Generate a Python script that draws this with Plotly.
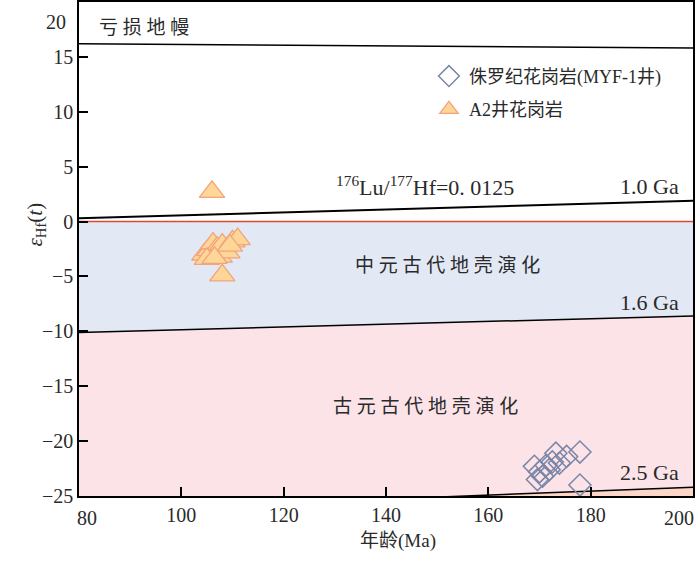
"""εHf(t) - 年龄 图解

使用 plotly 绘制锆石 Hf 同位素演化图。
"""

import plotly.graph_objects as go

# 参考演化线 (年龄 Ma, εHf)
line_age = [80, 200]
dm_eps = [16.2, 15.8]  # 亏损地幔
ga10_eps = [0.3, 1.9]  # 1.0 Ga
ga16_eps = [-10.1, -8.6]  # 1.6 Ga
ga25_age = [150, 200]
ga25_eps = [-25.1, -24.2]  # 2.5 Ga
chur_eps = [0, 0]

# A2 井花岗岩
a2_age = [106, 108, 104.5, 105.5, 106.2, 107, 107.5, 108, 109, 110, 111, 105, 106.5, 109.5]
a2_eps = [2.7, -4.9, -3.0, -2.6, -2.0, -2.4, -3.2, -2.1, -2.8, -1.8, -1.6, -3.4, -3.3, -2.2]

# 侏罗纪花岗岩 (MYF-1 井)
myf_age = [177.9, 177.9, 175.3, 173.2, 172.5, 173.9, 171.3, 169.0, 170.0, 170.6, 169.6, 171.9]
myf_eps = [-24.0, -21.0, -21.4, -21.1, -21.9, -22.0, -22.2, -22.3, -22.8, -23.2, -23.5, -22.6]

# 刻度 (边缘的刻度文字单独放, 往图内缩一点)
y_ticks = [20, 15, 10, 5, 0, -5, -10, -15, -20, -25]
y_tick_text = ["", "15", "10", "5", "0", "−5", "−10", "−15", "−20", "−25"]
x_ticks = [80, 100, 120, 140, 160, 180, 200]
x_tick_text = ["", "100", "120", "140", "160", "180", ""]
y_bottom = -25

FONT = "Liberation Serif, Noto Sans CJK SC"
TEXT_COLOR = "#2a2a2a"

fig = go.Figure()

# 古元古代地壳演化区 (粉色)
fig.add_trace(
    go.Scatter(
        x=line_age + line_age[::-1],
        y=ga16_eps + [y_bottom, y_bottom],
        fill="toself",
        fillcolor="#fbe3e8",
        line={"width": 0},
        mode="lines",
        showlegend=False,
        hoverinfo="skip",
    )
)

# 2.5 Ga 线以下
fig.add_trace(
    go.Scatter(
        x=ga25_age + ga25_age[::-1],
        y=ga25_eps + [y_bottom, y_bottom],
        fill="toself",
        fillcolor="#fcd6c8",
        line={"width": 0},
        mode="lines",
        showlegend=False,
        hoverinfo="skip",
    )
)
fig.add_trace(
    go.Scatter(
        x=ga25_age, y=ga25_eps, mode="lines",
        line={"color": "black", "width": 1.5},
        showlegend=False, hoverinfo="skip",
    )
)

# 中元古代地壳演化区 (蓝色)
fig.add_trace(
    go.Scatter(
        x=line_age + line_age[::-1],
        y=ga16_eps + chur_eps,
        fill="toself",
        fillcolor="#e2e8f4",
        line={"width": 0},
        mode="lines",
        showlegend=False,
        hoverinfo="skip",
    )
)
fig.add_trace(
    go.Scatter(
        x=line_age, y=ga16_eps, mode="lines",
        line={"color": "black", "width": 1.5},
        showlegend=False, hoverinfo="skip",
    )
)

# CHUR 线
fig.add_trace(
    go.Scatter(
        x=line_age, y=chur_eps, mode="lines",
        line={"color": "#e0472f", "width": 1.5},
        showlegend=False, hoverinfo="skip",
    )
)

# 1.0 Ga 线
fig.add_trace(
    go.Scatter(
        x=line_age, y=ga10_eps, mode="lines",
        line={"color": "black", "width": 2},
        showlegend=False, hoverinfo="skip",
    )
)

# 亏损地幔线
fig.add_trace(
    go.Scatter(
        x=line_age, y=dm_eps, mode="lines",
        line={"color": "black", "width": 1.5},
        showlegend=False, hoverinfo="skip",
    )
)

# 样品点
fig.add_trace(
    go.Scatter(
        x=myf_age,
        y=myf_eps,
        mode="markers",
        name="侏罗纪花岗岩(MYF-1井)",
        legendgroup="a",
        marker={
            "symbol": "diamond-open",
            "size": 17,
            "color": "#7a86a8",
            "line": {"width": 1.5, "color": "#7a86a8"},
        },
    )
)
fig.add_trace(
    go.Scatter(
        x=a2_age,
        y=a2_eps,
        mode="markers",
        name="A2井花岗岩",
        legendgroup="b",
        marker={
            "symbol": "triangle-up",
            "size": 22,
            "color": "#fdd698",
            "line": {"width": 1.3, "color": "#f2a47c"},
        },
    )
)

# 文字标注
labels = [
    (92.7, 17.7, "亏 损 地 幔", "center", 19),
    (147.7, 3.2, "<sup>176</sup>Lu/<sup>177</sup>Hf=0. 0125", "center", 22),
    (197.7, 3.2, "1.0 Ga", "right", 22),
    (152.0, -4.04, "中 元 古 代 地 壳 演 化", "center", 19),
    (197.7, -7.4, "1.6 Ga", "right", 22),
    (147.8, -16.86, "古 元 古 代 地 壳 演 化", "center", 19),
    (197.7, -22.9, "2.5 Ga", "right", 22),
]
for x, y, text, align, size in labels:
    fig.add_annotation(
        x=x, y=y, text=text, showarrow=False, xanchor=align,
        font={"family": FONT, "size": size, "color": TEXT_COLOR},
    )

# 边缘刻度文字
tick_font = {"family": FONT, "size": 20, "color": TEXT_COLOR}
fig.add_annotation(
    xref="paper", yref="paper", x=-0.018, y=0.985, xanchor="right",
    text="20", showarrow=False, font=tick_font,
)
fig.add_annotation(
    xref="paper", yref="paper", x=0.0138, y=-0.044,
    xanchor="center", yanchor="middle",
    text="80", showarrow=False, font=tick_font,
)
fig.add_annotation(
    xref="paper", yref="paper", x=0.977, y=-0.044,
    xanchor="center", yanchor="middle",
    text="200", showarrow=False, font=tick_font,
)

# 坐标轴标题
fig.add_annotation(
    xref="paper", yref="paper", x=-0.095, y=0.549,
    text="<i>ε</i><sub>Hf</sub>(<i>t</i>)", textangle=-90, showarrow=False,
    font={"family": FONT, "size": 21, "color": TEXT_COLOR},
)
fig.add_annotation(
    xref="paper", yref="paper", x=0.52, y=-0.091,
    xanchor="center", yanchor="middle",
    text="年龄(Ma)", showarrow=False,
    font={"family": FONT, "size": 19, "color": TEXT_COLOR},
)

axis_style = dict(
    showgrid=False,
    zeroline=False,
    showline=True,
    linecolor="black",
    linewidth=1.5,
    mirror=True,
    ticks="inside",
    ticklen=9,
    tickwidth=1.5,
    tickcolor="black",
    automargin=False,
    ticklabeloverflow="allow",
    tickfont=tick_font,
)

fig.update_xaxes(range=[80, 200], tickvals=x_ticks, ticktext=x_tick_text, **axis_style)
fig.update_yaxes(range=[-25, 20], tickvals=y_ticks, ticktext=y_tick_text, **axis_style)

fig.update_layout(
    width=700,
    height=561,
    margin={"l": 79, "r": 7, "t": 2, "b": 65},
    plot_bgcolor="white",
    paper_bgcolor="white",
    showlegend=True,
    legend={
        "x": 0.570,
        "y": 0.887,
        "xanchor": "left",
        "yanchor": "top",
        "bgcolor": "rgba(0,0,0,0)",
        "traceorder": "grouped",
        "tracegroupgap": 7,
        "font": {"family": FONT, "size": 18, "color": TEXT_COLOR},
    },
)

# 去掉页面默认边距, 让图正好铺满窗口
fig.write_html(
    "out.html",
    config={"displayModeBar": False},
    post_script="document.body.style.margin='0';",
)
